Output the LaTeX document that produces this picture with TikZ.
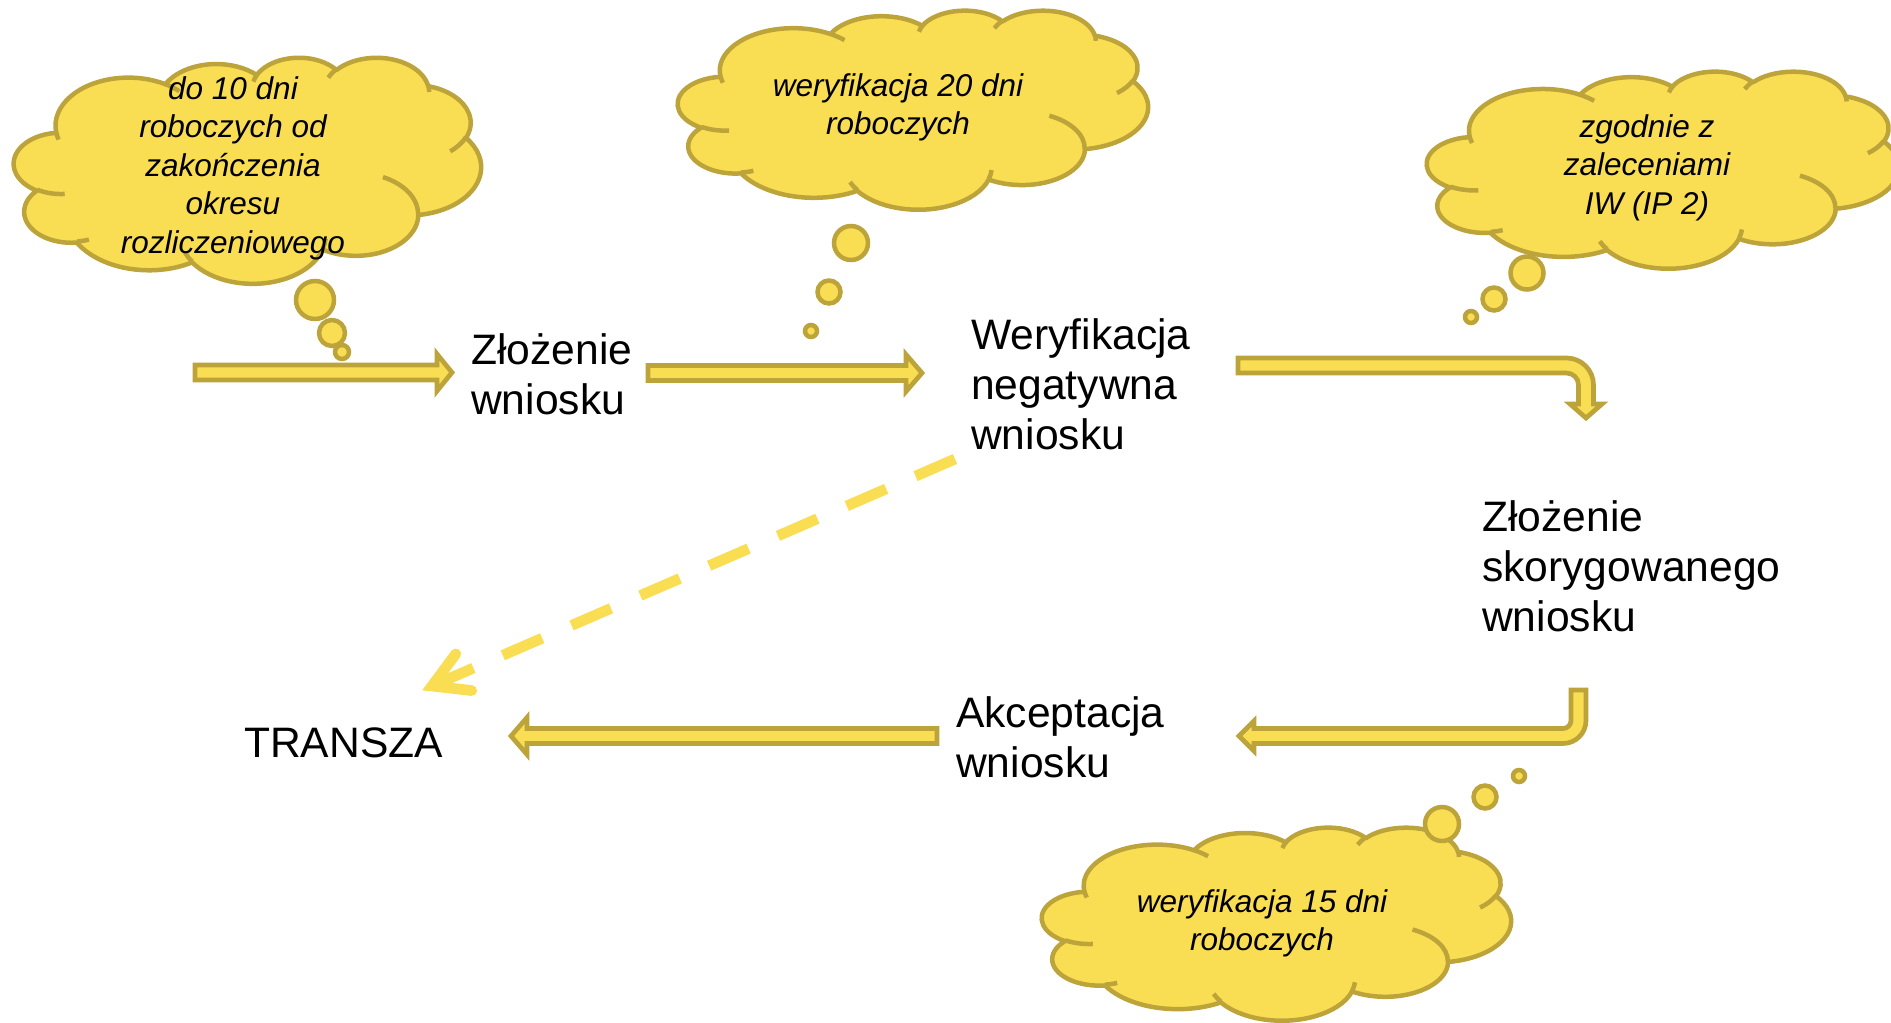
\documentclass[tikz,border=0pt]{standalone}
\usepackage{fontspec}
\setmainfont{Liberation Sans}
\usetikzlibrary{calc}
\definecolor{cfill}{RGB}{249,222,84}
\definecolor{cline}{RGB}{188,163,58}
\newcommand\cldarc[4]{%
  \pgfextra{%
    \pgfmathparse{atan2((#1)*sin(#3),(#2)*cos(#3))}\xdef\cldta{\pgfmathresult}%
    \pgfmathparse{atan2((#1)*sin((#3)+(#4)),(#2)*cos((#3)+(#4)))}\xdef\cldtb{\pgfmathresult}%
    \pgfmathparse{(\cldtb<\cldta) ? (\cldtb+360) : (\cldtb)}\xdef\cldtb{\pgfmathresult}%
  }%
  arc[start angle=\cldta, end angle=\cldtb, x radius=#1, y radius=#2]%
}
\newcommand\cloudshape[4]{%
  \begin{scope}[shift={(#1,#2)}, xscale=#3/43.2, yscale=#4/43.2]
    \path[cloudbody] (3.9,14.37)
      \cldarc{6.753}{9.19}{-190.4875}{123.7805}
      \cldarc{5.333}{7.267}{-144.1024}{89.9452}
      \cldarc{4.365}{5.945}{-145.8079}{99.7230}
      \cldarc{4.857}{6.595}{-130.9861}{117.2417}
      \cldarc{5.333}{7.273}{-78.7089}{109.0269}
      \cldarc{6.775}{9.22}{-46.2673}{130.2690}
      \cldarc{5.785}{7.867}{0.6250}{114.0333}
      \cldarc{6.752}{9.215}{22.4516}{115.1726}
      \cldarc{7.72}{10.543}{66.2426}{75.7110}
      \cldarc{4.36}{5.918}{-274.9421}{146.7356}
      \cldarc{4.345}{5.945}{-246.8285}{152.5189}
      -- cycle;
    \path[cloudcrease]
      (4.693,26.177) \cldarc{4.345}{5.945}{86.742}{26.4295}
      (6.928,34.899) \cldarc{4.36}{5.918}{73.6105}{11.4475}
      (16.478,39.09) \cldarc{6.752}{9.215}{137.6242}{14.0811}
      (28.827,34.751) \cldarc{6.752}{9.215}{6.4533}{15.9984}
      (34.129,22.954) \cldarc{5.785}{7.867}{-70.2924}{70.9174}
      (41.798,15.354) \cldarc{5.333}{7.273}{30.3180}{27.7515}
      (38.324,5.426) \cldarc{4.857}{6.595}{-13.7443}{14.8589}
      (29.078,3.952) \cldarc{4.857}{6.595}{-149.1815}{18.1954}
      (22.141,4.72) \cldarc{4.365}{5.945}{-163.4943}{17.6864}
      (14.0,5.192) \cldarc{6.753}{9.19}{-66.7070}{12.3194}
      (4.127,15.789) \cldarc{6.753}{9.19}{157.6544}{11.8582};
  \end{scope}
}
\tikzset{
  cloudbody/.style={fill=cfill, draw=cline, line width=4.5pt, line join=round},
  cloudcrease/.style={draw=cline, line width=4.5pt},
  bubble/.style={fill=cfill, draw=cline, line width=4.5pt},
  blk/.style={fill=cfill, draw=cline, line width=4.7pt, line join=miter},
  dashsty/.style={draw=cfill, line width=10.7pt, dash pattern=on 43pt off 32pt},
  headsty/.style={draw=cfill, line width=10.7pt, line cap=round, line join=miter},
  lbl/.style={font=\fontsize{42.6}{50}\selectfont, align=left, inner sep=0pt, anchor=north west},
  cltxt/.style={font=\itshape\fontsize{31.5}{38.5}\selectfont, align=center, inner sep=0pt, anchor=north},
}
\begin{document}
\begin{tikzpicture}[x=1pt, y=1pt, yscale=-1]
\useasboundingbox (0,0) rectangle (1891,1023);

% clouds
\cloudshape{14}{57}{467}{226}
\cloudshape{678}{10}{470}{199}
\cloudshape{1427}{71}{472}{197}
\cloudshape{1042}{827}{469}{193}

% bubbles
\draw[bubble] (315,300) circle[radius=19];
\draw[bubble] (332,333) circle[radius=13];
\draw[bubble] (342,352) circle[radius=7];
\draw[bubble] (851,243) circle[radius=17];
\draw[bubble] (829,292) circle[radius=11.5];
\draw[bubble] (811,331) circle[radius=6];
\draw[bubble] (1527,273) circle[radius=16.5];
\draw[bubble] (1494,299) circle[radius=11.5];
\draw[bubble] (1471,317) circle[radius=6];
\draw[bubble] (1442,824) circle[radius=17];
\draw[bubble] (1485,797) circle[radius=11.5];
\draw[bubble] (1519,776) circle[radius=6];

% block arrows
\draw[blk] (195,365) -- (437,365) -- (437,354) -- (452,372.5) -- (437,391) -- (437,380) -- (195,380) -- cycle;
\draw[blk] (648,365.5) -- (906,365.5) -- (906,354.5) -- (922,373) -- (906,391.5) -- (906,380.5) -- (648,380.5) -- cycle;
\draw[blk] (937,728.5) -- (527,728.5) -- (527,717.5) -- (511,736) -- (527,754.5) -- (527,743.5) -- (937,743.5) -- cycle;
\draw[blk] (1238,358) -- (1566.5,358) arc[start angle=270, end angle=360, radius=27]
  -- (1593.5,404) -- (1602,404) -- (1586,418) -- (1570,404) -- (1578.5,404) -- (1578.5,385)
  arc[start angle=0, end angle=-90, radius=12] -- (1238,373) -- cycle;
\draw[blk] (1571,690) -- (1586,690) -- (1586,720.5) arc[start angle=0, end angle=90, radius=23]
  -- (1254,743.5) -- (1254,751) -- (1239,736) -- (1254,721) -- (1254,728.5) -- (1563,728.5)
  arc[start angle=90, end angle=0, radius=8] -- cycle;

% dashed connector
\coordinate (ds) at (955,459);
\coordinate (dt) at (432,686);
\draw[dashsty] (ds) -- (dt);
\draw[headsty] ($(dt)+(-53.46:40)$) -- (dt) -- ($(dt)+(6.54:40)$);

% labels
\node[lbl] (zl1) at (471,324) {\rule{0pt}{40pt}Złożenie\\wniosku};
\node[lbl] (wer) at (971,309) {\rule{0pt}{40pt}Weryfikacja\\negatywna\\wniosku};
\node[lbl] (zl2) at (1482,491) {\rule{0pt}{40pt}Złożenie\\skorygowanego\\wniosku};
\node[lbl] (akc) at (956,687) {\rule{0pt}{40pt}Akceptacja\\wniosku};
\node[lbl] (tr) at (244,717) {\rule{0pt}{40pt}TRANSZA};

\node[cltxt] (c1t) at (233,69) {\rule{0pt}{30pt}do 10 dni\\roboczych od\\zakończenia\\okresu\\rozliczeniowego};
\node[cltxt] (c2t) at (898,66) {\rule{0pt}{30pt}weryfikacja 20 dni\\roboczych};
\node[cltxt] (c3t) at (1647,107) {\rule{0pt}{30pt}zgodnie z\\zaleceniami\\IW (IP 2)};
\node[cltxt] (c4t) at (1262,882) {\rule{0pt}{30pt}weryfikacja 15 dni\\roboczych};
\end{tikzpicture}
\end{document}
